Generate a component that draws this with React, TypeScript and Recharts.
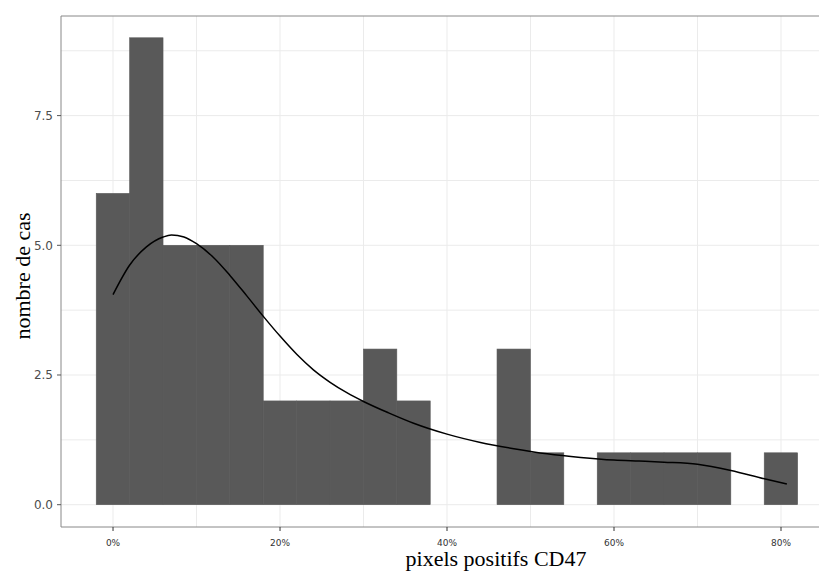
import * as React from "react";
import {
  ComposedChart,
  Bar,
  Line,
  XAxis,
  YAxis,
  CartesianGrid,
  ReferenceLine,
} from "recharts";

// histogram bins (centre of each 4% bin) and the counts
const binCentres = [0, 4, 8, 12, 16, 20, 24, 28, 32, 36, 40, 44, 48, 52, 56, 60, 64, 68, 72, 76, 80];
const binCounts = [6, 9, 5, 5, 5, 2, 2, 2, 3, 2, 0, 0, 3, 1, 0, 1, 1, 1, 1, 0, 1];

// density curve (scaled to counts)
const densityX = [0, 2, 4, 6, 7, 8.5, 10, 12, 14, 16, 18, 20, 22, 24, 26, 28, 30, 33, 36, 40, 44, 48, 52, 56, 60, 63, 66, 70, 74, 78, 80.7];
const densityY = [4.05, 4.62, 4.97, 5.16, 5.2, 5.16, 5.03, 4.77, 4.42, 4.03, 3.63, 3.25, 2.9, 2.6, 2.36, 2.16, 1.99, 1.77, 1.57, 1.36, 1.2, 1.08, 0.98, 0.91, 0.86, 0.84, 0.82, 0.78, 0.66, 0.5, 0.4];

const xTicks = [0, 20, 40, 60, 80];
const yTicks = [0, 2.5, 5, 7.5];
const xGrid = [0, 10, 20, 30, 40, 50, 60, 70, 80];
const yGrid = [0, 1.25, 2.5, 3.75, 5, 6.25, 7.5, 8.75];

const BIN_WIDTH = 4;
const X_MIN = -6.23;
const X_MAX = 84.55;
const Y_MIN = -0.43;
const Y_MAX = 9.42;

const CHART_W = 819;
const CHART_H = 572;
const Y_AXIS_W = 61;
const X_AXIS_H = 45;
const TOP = 16;

const BORDER = "#888888";

// one table for the chart: bins and curve points share the x key
function buildRows() {
  const byX = new Map<number, { x: number; count?: number; density?: number }>();
  binCentres.forEach((x, i) => {
    byX.set(x, { ...(byX.get(x) || { x }), count: binCounts[i] });
  });
  densityX.forEach((x, i) => {
    byX.set(x, { ...(byX.get(x) || { x }), density: densityY[i] });
  });
  return Array.from(byX.values()).sort((a, b) => a.x - b.x);
}

const plotW = CHART_W - Y_AXIS_W;
const binPx = (plotW / (X_MAX - X_MIN)) * BIN_WIDTH;

// recharts squeezes bars to the smallest gap between x values, so widen each
// bar back to the full bin width around the centre the scale gave it
function HistBar(props: any) {
  const { x, y, width, height, fill } = props;
  if (!height || height <= 0) return null;
  const cx = x + width / 2;
  return (
    <rect
      x={cx - binPx / 2}
      y={y}
      width={binPx}
      height={height}
      fill={fill}
      stroke={fill}
      strokeWidth={0.6}
    />
  );
}

export default function App() {
  const rows = buildRows();

  return (
    <div style={{ position: "absolute", left: 0, top: 0, width: CHART_W, height: CHART_H }}>
      <ComposedChart
        width={CHART_W}
        height={CHART_H}
        data={rows}
        margin={{ top: TOP, right: 0, bottom: 0, left: 0 }}
        barCategoryGap={0}
        barGap={0}
      >
        <CartesianGrid
          stroke="#ebebeb"
          horizontalValues={yGrid}
          verticalValues={xGrid}
        />
        <XAxis
          dataKey="x"
          type="number"
          domain={[X_MIN, X_MAX]}
          allowDataOverflow
          ticks={xTicks}
          tickFormatter={(v) => `${v}%`}
          height={X_AXIS_H}
          tickSize={4}
          tickMargin={9}
          axisLine={{ stroke: BORDER }}
          tickLine={{ stroke: "#333" }}
          tick={{ fontSize: 9, fill: "#333", fontFamily: "DejaVu Sans" }}
        />
        <YAxis
          type="number"
          domain={[Y_MIN, Y_MAX]}
          allowDataOverflow
          ticks={yTicks}
          tickFormatter={(v) => Number(v).toFixed(1)}
          width={Y_AXIS_W}
          tickSize={4}
          tickMargin={4}
          axisLine={{ stroke: BORDER }}
          tickLine={{ stroke: "#555" }}
          tick={{ fontSize: 12, fill: "#4d4d4d", fontFamily: "DejaVu Sans" }}
        />
        <ReferenceLine y={Y_MAX} stroke={BORDER} />
        <Bar
          dataKey="count"
          fill="#595959"
          shape={HistBar}
          isAnimationActive={false}
        />
        <Line
          dataKey="density"
          type="monotone"
          stroke="#000"
          strokeWidth={1.5}
          dot={false}
          activeDot={false}
          connectNulls
          isAnimationActive={false}
        />
        <text
          x={496}
          y={566}
          textAnchor="middle"
          fontFamily="Liberation Serif"
          fontSize={22}
          fill="#000"
        >
          pixels positifs CD47
        </text>
        <text
          x={22}
          y={276}
          transform="rotate(-90 22 276)"
          textAnchor="middle"
          dominantBaseline="central"
          fontFamily="Liberation Serif"
          fontSize={22}
          fill="#000"
        >
          nombre de cas
        </text>
      </ComposedChart>
    </div>
  );
}
